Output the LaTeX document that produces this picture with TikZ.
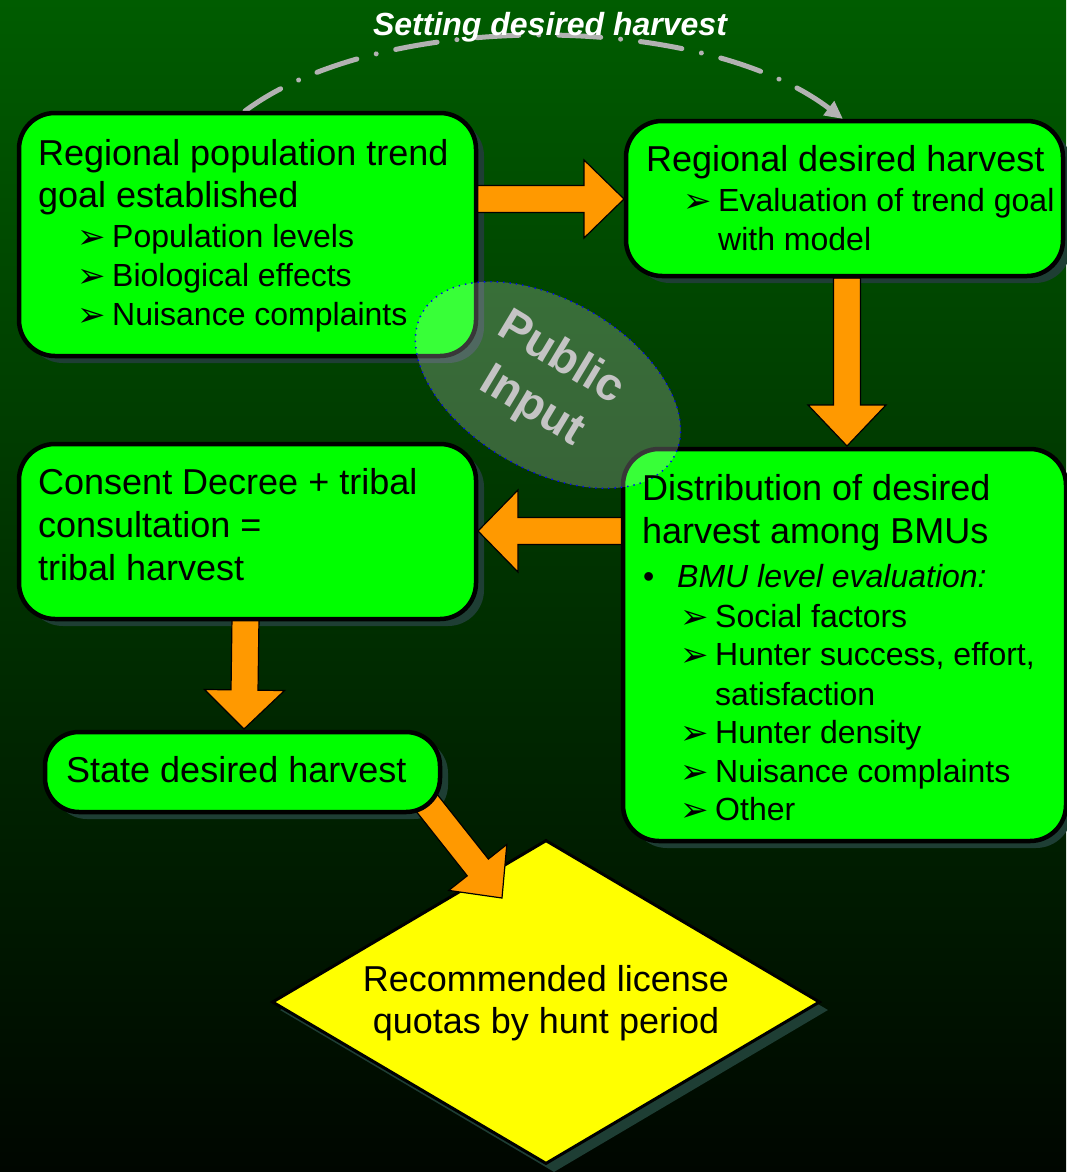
\documentclass[tikz,border=0pt]{standalone}
\usepackage{fontspec}
\setmainfont{Liberation Sans}
\newfontfamily\dvfont{DejaVu Sans}
\usetikzlibrary{shapes.geometric,arrows.meta,calc}
\definecolor{bgtop}{RGB}{0,92,0}
\definecolor{bgbot}{RGB}{0,6,0}
\definecolor{boxgreen}{RGB}{0,255,0}
\definecolor{shadowc}{RGB}{30,62,52}
\definecolor{orangec}{RGB}{255,153,0}
\definecolor{dashgray}{RGB}{178,178,178}
\definecolor{pubtext}{RGB}{196,196,196}
\definecolor{diamyellow}{RGB}{255,255,0}
\newcommand\arrb{\makebox[35pt][l]{\raisebox{-1pt}{\dvfont\fontsize{34}{34}\selectfont ➢}}}
\newcommand\dotb{\makebox[34pt][l]{•}}
\newcommand\blockarr[5]{%
  \coordinate (ba-h) at ($(#2)!#5!(#1)$);
  \draw[blockarrow] ($(#1)!#3!90:(#2)$) -- ($(ba-h)!#3!-90:(#1)$) -- ($(ba-h)!#4!-90:(#1)$) -- (#2)
    -- ($(ba-h)!#4!90:(#1)$) -- ($(ba-h)!#3!90:(#1)$) -- ($(#1)!#3!-90:(#2)$) -- cycle;}
\begin{document}
\begin{tikzpicture}[x=1pt,y=-1pt,
  box/.style={draw=black, line width=4.5pt, fill=boxgreen, rounded corners=36pt, inner sep=0pt},
  boxshadow/.style={fill=shadowc, rounded corners=36pt, inner sep=0pt},
  blockarrow/.style={fill=orangec, draw=black, line width=1.2pt, line join=miter},
  txt/.style={anchor=base west, inner sep=0pt, font=\fontsize{36}{42}\selectfont},
  sub/.style={anchor=base west, inner sep=0pt, font=\fontsize{32}{38}\selectfont}]
\useasboundingbox (0,0) rectangle (1066,1172);
\shade[top color=bgtop, bottom color=bgbot] (0,0) rectangle (1066,1172);

% dashed feedback curve
\coordinate (cs) at (245,111);
\coordinate (ce) at (843,119);
\draw[dashgray, line width=5pt, line cap=round, dash pattern=on 42pt off 20pt on 0.01pt off 20pt,
  -{Triangle[length=18pt,width=17pt]}] (cs) .. controls (380,10) and (700,10) .. (ce);

% shadows
\node[boxshadow, minimum width=457pt, minimum height=243pt] (As) at (255.5,241.5) {};
\node[boxshadow, minimum width=437pt, minimum height=155pt] (Bs) at (852.5,205.5) {};
\node[boxshadow, minimum width=441pt, minimum height=392pt] (Cs) at (851.5,652) {};
\node[boxshadow, minimum width=457pt, minimum height=175pt] (Ds) at (255.5,538.5) {};
\node[boxshadow, minimum width=395pt, minimum height=80pt, rounded corners=34pt] (Es) at (250.5,779) {};
\node[diamond, fill=shadowc, minimum width=548pt, minimum height=324pt, inner sep=0pt] (Qs) at (554,1010) {};

% decision diamond
\node[diamond, draw=black, line width=3pt, fill=diamyellow, minimum width=548pt, minimum height=324pt, inner sep=0pt] (Q) at (546,1002) {};

% block arrows
\coordinate (a1s) at (474,199);  \coordinate (a1t) at (624,199);
\coordinate (a2s) at (847,278);  \coordinate (a2t) at (847,446);
\coordinate (a3s) at (625,531);  \coordinate (a3t) at (478,531);
\coordinate (a4s) at (245.5,617); \coordinate (a4t) at (244,729);
\coordinate (a5s) at (426,802);  \coordinate (a5t) at (502,898);
\blockarr{a1s}{a1t}{13.5pt}{39pt}{40pt}
\blockarr{a2s}{a2t}{13.5pt}{39pt}{41pt}
\blockarr{a3s}{a3t}{13.5pt}{41pt}{40pt}
\blockarr{a4s}{a4t}{13.5pt}{40pt}{39pt}
\blockarr{a5s}{a5t}{13.5pt}{37pt}{39pt}

% boxes
\node[box, minimum width=457pt, minimum height=243pt] (A) at (247.5,234.5) {};
\node[box, minimum width=437pt, minimum height=155pt] (B) at (844.5,198.5) {};
\node[box, minimum width=443pt, minimum height=392pt] (C) at (844.5,645) {};
\node[box, minimum width=457pt, minimum height=175pt] (D) at (247.5,531.5) {};
\node[box, minimum width=395pt, minimum height=80pt, rounded corners=34pt] (E) at (242.5,772) {};

% public input ellipse
\node[ellipse, minimum width=290pt, minimum height=170pt, rotate=-30, fill=white, fill opacity=0.22,
  draw=blue, line width=1.4pt, dash pattern=on 1.4pt off 5pt] (P) at (548,385) {};

% texts box A
\node[txt] (tA1) at (38,165) {Regional population trend};
\node[txt] (tA2) at (38,207) {goal established};
\node[sub] (tA3) at (77,247) {\arrb Population levels};
\node[sub] (tA4) at (77,286) {\arrb Biological effects};
\node[sub] (tA5) at (77,325) {\arrb Nuisance complaints};
% box B
\node[txt] (tB1) at (646,171) {Regional desired harvest};
\node[sub] (tB2) at (683,211) {\arrb Evaluation of trend goal};
\node[sub] (tB3) at (718,250) {with model};
% box C
\node[txt] (tC1) at (642,500) {Distribution of desired};
\node[txt] (tC2) at (642,543) {harvest among BMUs};
\node[sub] (tC3) at (643,587) {\dotb\textit{BMU level evaluation:}};
\node[sub] (tC4) at (680,627) {\arrb Social factors};
\node[sub] (tC5) at (680,665) {\arrb Hunter success, effort,};
\node[sub] (tC6) at (715,705) {satisfaction};
\node[sub] (tC7) at (680,743) {\arrb Hunter density};
\node[sub] (tC8) at (680,782) {\arrb Nuisance complaints};
\node[sub] (tC9) at (680,820) {\arrb Other};
% box D
\node[txt] (tD1) at (38,494) {Consent Decree + tribal};
\node[txt] (tD2) at (38,537) {consultation =};
\node[txt] (tD3) at (38,580) {tribal harvest};
% box E
\node[txt] (tE1) at (66,782) {State desired harvest};
% diamond
\node[txt, anchor=base] (tQ1) at (546,991) {Recommended license};
\node[txt, anchor=base] (tQ2) at (546,1033) {quotas by hunt period};
% public input
\node[font=\bfseries\fontsize{46}{56}\selectfont, text=pubtext, align=center, rotate=-31, inner sep=0pt] (tP) at (546,383) {Public\\Input};
% title
\node[font=\bfseries\itshape\fontsize{32}{36}\selectfont, text=white, anchor=base, inner sep=0pt] (title) at (550,36) {Setting desired harvest};
\end{tikzpicture}
\end{document}
